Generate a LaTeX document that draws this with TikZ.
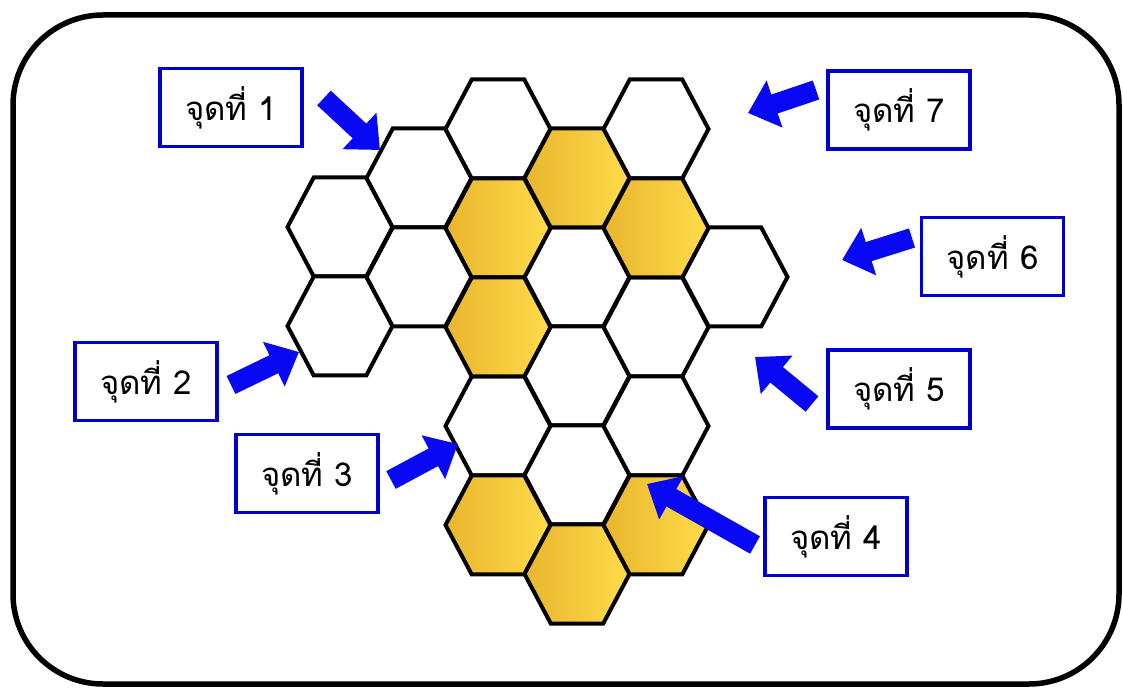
\documentclass[tikz,border=0pt]{standalone}
\usepackage{fontspec}
\newfontfamily\thaifont[Script=Thai]{Loma}
\usepackage{tikz}
\usetikzlibrary{positioning, arrows.meta}
\definecolor{markblue}{RGB}{8,8,245}
\definecolor{boxblue}{RGB}{0,0,205}
\definecolor{honeyL}{RGB}{232,182,46}
\definecolor{honeyR}{RGB}{255,219,74}

\begin{document}
\begin{tikzpicture}[
    x=0.5pt, y=-0.5pt, % one unit is one pixel of the sketch, y going down
    spotbox/.style={draw=boxblue, line width=1.75pt, fill=white,
        minimum width=71pt, minimum height=39pt, inner sep=0pt,
        font=\thaifont\fontsize{16.5}{18}\selectfont},
    pointer/.style={draw=markblue, line width=10pt,
        -{Triangle[length=14pt, width=24pt, fill=markblue]}},
    empty/.style={fill=white},
    honey/.style={left color=honeyL, right color=honeyR},
    hexcell/.pic={\draw[line width=2pt, #1] (-52.5,0) -- (-26.25,-49.5)
        -- (26.25,-49.5) -- (52.5,0) -- (26.25,49.5) -- (-26.25,49.5) -- cycle;}
]
    \useasboundingbox (0,0) rectangle (1123,688);

    % 1. The frame round everything
    \draw[line width=2.75pt, rounded corners=45pt] (13,15) rectangle (1119,684);

    % 2. The white cells
    \pic (a1) at (340,227) {hexcell=empty};
    \pic (a2) at (340,326) {hexcell=empty};
    \pic (b1) at (419,178) {hexcell=empty};
    \pic (b2) at (419,277) {hexcell=empty};
    \pic (c1) at (498,129) {hexcell=empty};
    \pic (c4) at (498,426) {hexcell=empty};
    \pic (d2) at (577,277) {hexcell=empty};
    \pic (d3) at (577,376) {hexcell=empty};
    \pic (d4) at (577,475) {hexcell=empty};
    \pic (e1) at (656,129) {hexcell=empty};
    \pic (e3) at (656,327) {hexcell=empty};
    \pic (e4) at (656,426) {hexcell=empty};
    \pic (f1) at (735,277) {hexcell=empty};

    % 3. The yellow cells, drawn on top
    \pic (c2) at (498,228) {hexcell=honey};
    \pic (c3) at (498,327) {hexcell=honey};
    \pic (c5) at (498,525) {hexcell=honey};
    \pic (d1) at (577,178) {hexcell=honey};
    \pic (d5) at (577,574) {hexcell=honey};
    \pic (e2) at (656,228) {hexcell=honey};
    \pic (e5) at (656,525) {hexcell=honey};

    % 4. The labels
    \node[spotbox] (P1) at (231,107.5) {จุดที่ 1};
    \node[spotbox] (P2) at (146,381.5) {จุดที่ 2};
    \node[spotbox] (P3) at (307,473.5) {จุดที่ 3};
    \node[spotbox] (P4) at (836,536.5) {จุดที่ 4};
    \node[spotbox] (P5) at (899,389) {จุดที่ 5};
    \node[spotbox] (P6) at (992.5,256.5) {จุดที่ 6};
    \node[spotbox] (P7) at (899,110) {จุดที่ 7};

    % 5. Where the arrows start and end
    \coordinate (t1) at (324,98);  \coordinate (h1) at (380,150);
    \coordinate (t2) at (231,385); \coordinate (h2) at (299,352);
    \coordinate (t3) at (391,480); \coordinate (h3) at (458,444);
    \coordinate (t4) at (755,545); \coordinate (h4) at (647,484);
    \coordinate (t5) at (812,404); \coordinate (h5) at (755,357);
    \coordinate (t6) at (912,238); \coordinate (h6) at (842,260);
    \coordinate (t7) at (816,90);  \coordinate (h7) at (748,113);

    % 6. Draw the arrows
    \draw[pointer] (t1) -- (h1);
    \draw[pointer] (t2) -- (h2);
    \draw[pointer] (t3) -- (h3);
    \draw[pointer] (t4) -- (h4);
    \draw[pointer] (t5) -- (h5);
    \draw[pointer] (t6) -- (h6);
    \draw[pointer] (t7) -- (h7);

\end{tikzpicture}
\end{document}
